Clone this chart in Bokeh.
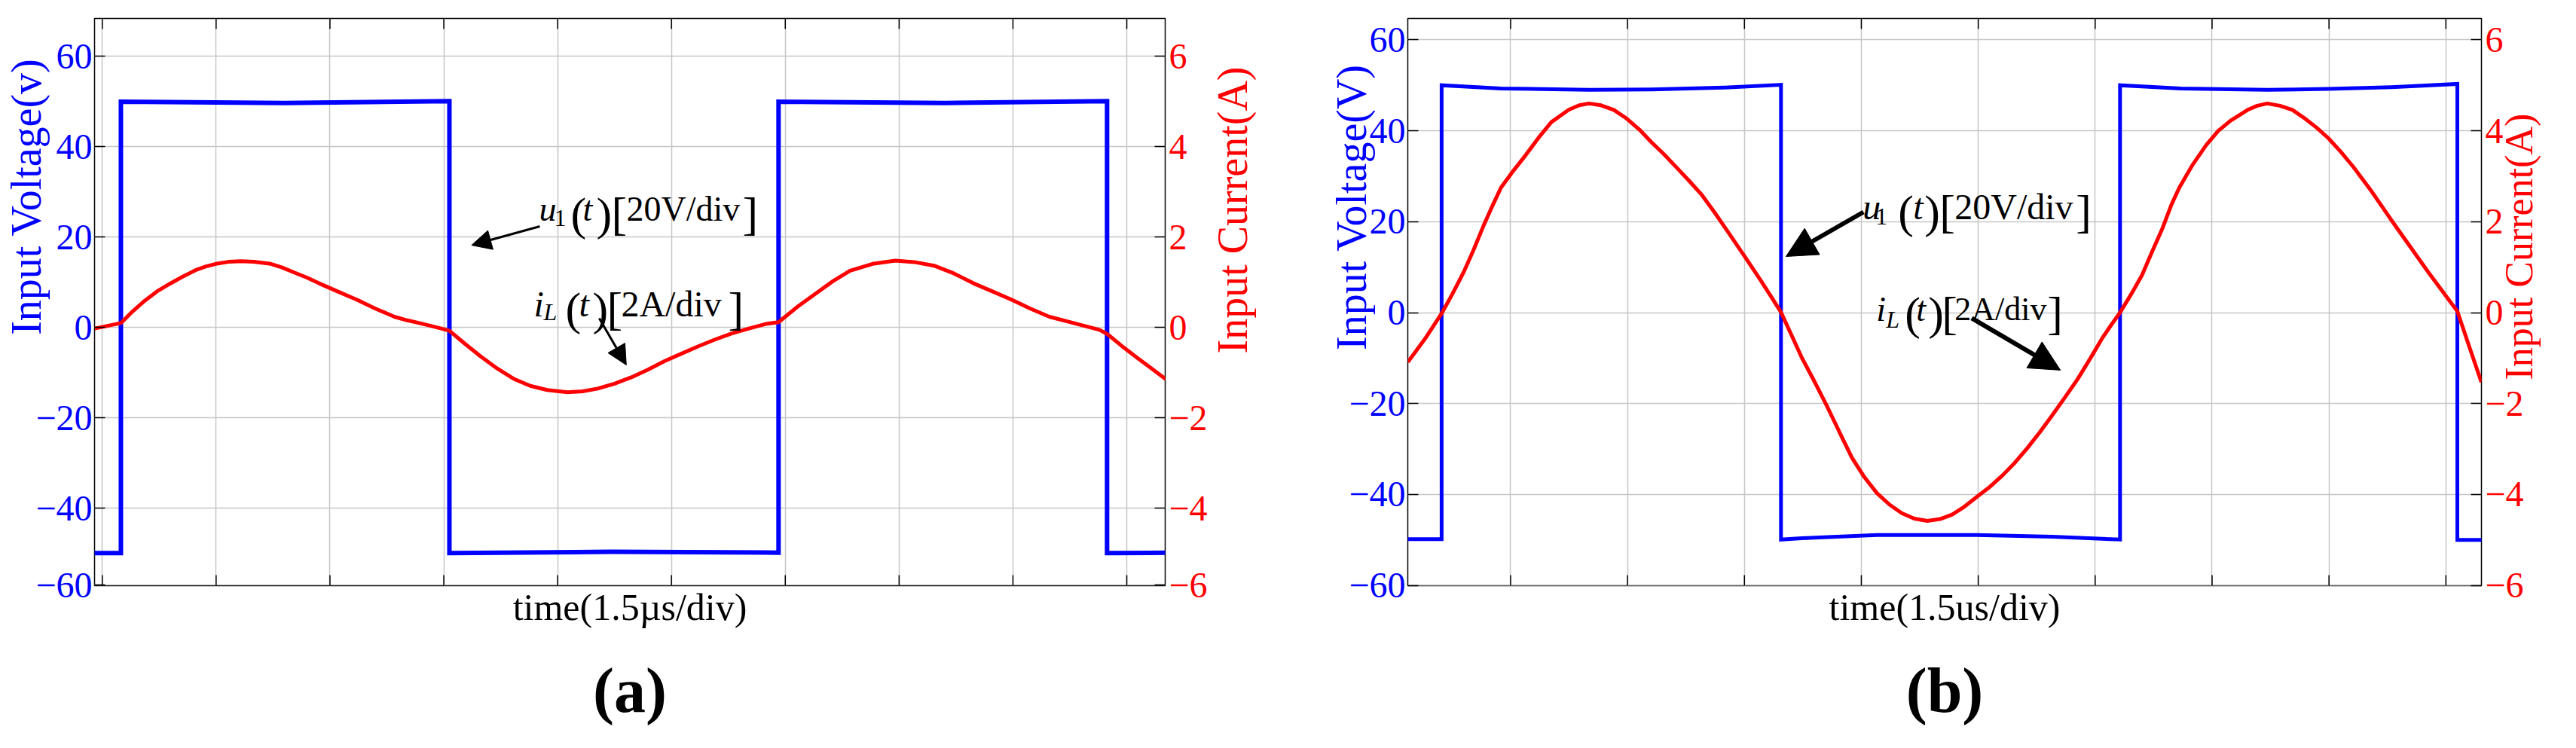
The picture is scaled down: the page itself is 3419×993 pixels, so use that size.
import math
from bokeh.plotting import figure
from bokeh.models import Range1d, LinearAxis, FixedTicker, Label, Arrow, NormalHead
from bokeh.layouts import row
from bokeh.embed import file_html
from bokeh.resources import INLINE

FONT = "Liberation Serif"
BLUE = "#0000ff"
RED = "#ff0000"
GRID = "#c6c6c6"
FRAME_H = 753
NB = "\u00a0"

# ---------------- panel (a) data ----------------
a_time_ticks = [0, 1.5, 3.0, 4.5, 6.0, 7.5, 9.0, 10.5, 12.0, 13.5]
a_volt_ticks = [-57.0, -40, -20, 0, 20, 40, 60]
a_volt_labels = ["\u221260", "\u221240", "\u221220", "0", "20", "40", "60"]
a_curr_ticks = [-5.7, -4, -2, 0, 2, 4, 6]
a_curr_labels = ["\u22126", "\u22124", "\u22122", "0", "2", "4", "6"]

a_volt_t = [-0.13, 0.245, 0.245, 2.4, 4.574, 4.574, 6.7, 8.911, 8.911, 11.1, 13.24, 13.24, 14.05]
a_volt_v = [-49.9, -49.9, 50.0, 49.7, 50.1, -49.9, -49.6, -49.8, 50.0, 49.7, 50.1, -49.9, -49.8]

a_curr_t = [-0.10, 0.245, 0.40, 0.563, 0.72, 0.890, 1.05, 1.228, 1.36, 1.496,
            1.66, 1.824, 2.00, 2.221, 2.37, 2.529, 2.69, 2.856, 3.10, 3.352,
            3.60, 3.849, 4.02, 4.177, 4.35, 4.514, 4.574, 4.78, 4.981, 5.20,
            5.418, 5.64, 5.863, 6.131, 6.33, 6.528, 6.75, 6.971, 7.19, 7.412,
            7.64, 7.859, 8.08, 8.296, 8.52, 8.742, 8.911, 9.16, 9.407, 9.63,
            9.854, 10.15, 10.45, 10.70, 10.96, 11.22, 11.48, 11.73, 11.98, 12.23,
            12.48, 12.80, 13.14, 13.24, 13.43, 13.63, 13.83, 14.03]
a_curr_i = [-0.02, 0.10, 0.36, 0.60, 0.80, 0.97, 1.12, 1.27, 1.35, 1.41,
            1.455, 1.47, 1.455, 1.41, 1.33, 1.22, 1.11, 0.98, 0.80, 0.62,
            0.42, 0.24, 0.16, 0.10, 0.03, -0.04, -0.07, -0.36, -0.63, -0.90,
            -1.13, -1.29, -1.38, -1.43, -1.41, -1.35, -1.24, -1.10, -0.93, -0.74,
            -0.57, -0.41, -0.26, -0.13, -0.02, 0.08, 0.12, 0.46, 0.76, 1.03,
            1.26, 1.41, 1.48, 1.45, 1.37, 1.20, 0.98, 0.80, 0.62, 0.42,
            0.24, 0.10, -0.05, -0.14, -0.40, -0.66, -0.91, -1.16]

# ---------------- panel (b) data ----------------
b_time_ticks = [0, 1.5, 3.0, 4.5, 6.0, 7.5, 9.0, 10.5, 12.0]
b_volt_ticks = [-60, -40, -20, 0, 20, 40, 60]
b_volt_labels = ["\u221260", "\u221240", "\u221220", "0", "20", "40", "60"]
b_curr_ticks = [-6, -4, -2, 0, 2, 4, 6]
b_curr_labels = ["\u22126", "\u22124", "\u22122", "0", "2", "4", "6"]

b_volt_t = [-1.34, -0.885, -0.885, -0.123, 1.006, 1.807, 2.75, 3.469, 3.469, 3.736, 4.700,
            5.983, 6.948, 7.819, 7.819, 8.6, 9.708, 10.49, 11.3, 12.147, 12.147, 12.48]
b_volt_v = [-49.8, -49.8, 50.0, 49.3, 49.0, 49.1, 49.5, 50.1, -49.9, -49.6, -48.9,
            -48.9, -49.3, -49.9, 50.0, 49.3, 49.0, 49.2, 49.6, 50.3, -50.0, -50.0]

b_curr_t = [-1.319, -1.10, -0.885, -0.75, -0.605, -0.475, -0.345, -0.23, -0.123, 0.04,
            0.196, 0.36, 0.523, 0.745, 0.88, 1.006, 1.16, 1.324, 1.488, 1.65,
            1.807, 1.97, 2.125, 2.29, 2.453, 2.61, 2.771, 2.99, 3.205, 3.34,
            3.469, 3.60, 3.736, 3.90, 4.054, 4.22, 4.382, 4.54, 4.700, 4.86,
            5.019, 5.18, 5.347, 5.51, 5.665, 5.82, 5.983, 6.15, 6.311, 6.47,
            6.630, 6.79, 6.948, 7.11, 7.276, 7.44, 7.595, 7.71, 7.819, 7.96,
            8.10, 8.23, 8.367, 8.48, 8.58, 8.75, 8.926, 9.08, 9.235, 9.457,
            9.58, 9.708, 9.87, 10.03, 10.19, 10.34, 10.49, 10.65, 10.81, 11.05,
            11.29, 11.53, 11.77, 11.96, 12.147, 12.30, 12.456]
b_curr_i = [-1.09, -0.58, -0.02, 0.40, 0.88, 1.38, 1.92, 2.36, 2.75, 3.13,
            3.47, 3.85, 4.19, 4.46, 4.56, 4.60, 4.56, 4.46, 4.27, 4.03,
            3.75, 3.48, 3.20, 2.90, 2.59, 2.22, 1.82, 1.27, 0.72, 0.36,
            0.01, -0.48, -0.99, -1.52, -2.04, -2.63, -3.20, -3.62, -3.97, -4.22,
            -4.41, -4.53, -4.58, -4.54, -4.44, -4.27, -4.05, -3.83, -3.58, -3.30,
            -2.98, -2.63, -2.26, -1.87, -1.46, -1.00, -0.55, -0.26, 0.0, 0.40,
            0.82, 1.34, 1.87, 2.38, 2.75, 3.25, 3.69, 4.00, 4.22, 4.46,
            4.55, 4.60, 4.55, 4.46, 4.27, 4.07, 3.84, 3.54, 3.21, 2.66,
            2.06, 1.48, 0.90, 0.46, 0.03, -0.75, -1.53]

PROPS = LinearAxis.properties()
HAS_ORIENT = "axis_label_orientation" in PROPS
HAS_ALIGN = "axis_label_align" in PROPS


def style_yaxis(ax, ticks, labels, color, standoff, label, pad, label_standoff,
                label_size, right_side):
    ax.ticker = FixedTicker(ticks=ticks)
    ax.major_tick_in = 14
    ax.major_tick_out = 0
    ax.major_tick_line_color = "black"
    ax.major_tick_line_width = 1.5
    ax.minor_tick_line_color = None
    ax.axis_line_color = None
    ax.major_label_overrides = {t: l for t, l in zip(ticks, labels)}
    ax.major_label_text_font = FONT
    ax.major_label_text_font_size = "48px"
    ax.major_label_text_color = color
    ax.major_label_standoff = standoff
    ax.axis_label_text_font = FONT
    ax.axis_label_text_font_size = f"{label_size}px"
    ax.axis_label_text_font_style = "normal"
    ax.axis_label_text_color = color
    ax.axis_label_standoff = label_standoff
    if right_side and HAS_ORIENT:
        # the reference's right-hand title reads upward, like the left one
        ax.axis_label_orientation = math.pi / 2
        if HAS_ALIGN:
            ax.axis_label_align = "start"
        else:
            pad = 0
    # leading no-break spaces move the visible words along the axis
    ax.axis_label = NB * pad + label


def label_only_axis(ax, text, size, style, standoff):
    ax.ticker = FixedTicker(ticks=[])
    ax.major_tick_line_color = None
    ax.minor_tick_line_color = None
    ax.axis_line_color = None
    ax.major_label_standoff = 0
    ax.axis_label = text
    ax.axis_label_text_font = FONT
    ax.axis_label_text_font_size = f"{size}px"
    ax.axis_label_text_font_style = style
    ax.axis_label_text_color = "black"
    ax.axis_label_standoff = standoff


def add_pieces(p, x, y, pieces):
    for txt, dx, dy, style, fs in pieces:
        p.add_layout(Label(x=x, y=y, x_offset=dx, y_offset=dy, text=txt,
                           text_font=FONT, text_font_size=f"{fs}px",
                           text_font_style=style, text_color="black",
                           text_align="left", text_baseline="alphabetic"))


def make_panel(width, bl, br, xr, yr, cr, tt, vt_, vl, ctk, cl, xlabel, vlab, clab,
               vpad, cpad, vstand, cstand, csize, title, vtime, vval, ctime, cval, blue_w):
    p = figure(width=width, height=977, x_range=Range1d(*xr), y_range=Range1d(*yr),
               output_backend="svg", toolbar_location=None,
               min_border_left=bl, min_border_right=br,
               min_border_top=24, min_border_bottom=200)
    p.extra_y_ranges = {"cur": Range1d(*cr)}
    p.outline_line_color = "black"
    p.outline_line_width = 1.5
    p.outline_line_alpha = 1.0
    p.background_fill_color = "white"
    p.border_fill_color = "white"

    label_only_axis(p.xaxis[0], xlabel, 50, "normal", 0)
    cap = LinearAxis()
    label_only_axis(cap, title, 84, "bold", 33)
    p.add_layout(cap, "below")

    style_yaxis(p.yaxis[0], vt_, vl, BLUE, 3, vlab, vpad, vstand, 56, False)
    yr_ax = LinearAxis(y_range_name="cur")
    style_yaxis(yr_ax, ctk, cl, RED, 5, clab, cpad, cstand, csize, True)
    p.add_layout(yr_ax, "right")

    p.xgrid.ticker = FixedTicker(ticks=tt)
    p.ygrid.ticker = FixedTicker(ticks=vt_)
    for g in (p.xgrid, p.ygrid):
        g.grid_line_color = GRID
        g.grid_line_width = 1.5

    tl = 14 * (yr[1] - yr[0]) / FRAME_H
    n = len(tt)
    p.segment(x0=tt, y0=[yr[0]] * n, x1=tt, y1=[yr[0] + tl] * n,
              line_color="black", line_width=1.5)
    p.segment(x0=tt, y0=[yr[1]] * n, x1=tt, y1=[yr[1] - tl] * n,
              line_color="black", line_width=1.5)

    p.line(vtime, vval, line_color=BLUE, line_width=blue_w, line_join="miter")
    p.line(ctime, cval, line_color=RED, line_width=5, y_range_name="cur")
    return p


# ---------------- panel (a) ----------------
pa = make_panel(1700, 125, 154, (-0.102, 14.006), (-57.1, 68.4), (-5.71, 6.84),
                a_time_ticks, a_volt_ticks, a_volt_labels, a_curr_ticks, a_curr_labels,
                "time(1.5\u00b5s/div)", "Input Voltage(v)", "Input Current(A)",
                20, 22, -22, 30, 56, "(a)",
                a_volt_t, a_volt_v, a_curr_t, a_curr_i, 6)

add_pieces(pa, 5.755, 26.23, [
    ("u", 0, 0, "italic", 46), ("1", 20, -12, "normal", 32),
    ("(", 42, -6, "normal", 62), ("t", 58, 0, "italic", 46),
    (")", 76, -6, "normal", 62), ("[", 96, -6, "normal", 62),
    ("20V/div", 116, 0, "normal", 46), ("]", 270, -6, "normal", 62)])
add_pieces(pa, 5.685, 5.23, [
    ("i", 0, 0, "italic", 48), ("L", 13, -10, "italic", 32),
    ("(", 42, -6, "normal", 62), ("t", 60, 0, "italic", 48),
    (")", 78, -6, "normal", 62), ("[", 97, -6, "normal", 62),
    ("2A/div", 116, 0, "normal", 48), ("]", 258, -6, "normal", 62)])
pa.add_layout(Arrow(x_start=5.765, y_start=22.4, x_end=4.866, y_end=18.23,
                    line_width=3, line_color="black",
                    end=NormalHead(size=26, fill_color="black", line_color="black")))
pa.add_layout(Arrow(x_start=6.548, y_start=2.07, x_end=6.905, y_end=-8.27,
                    line_width=3, line_color="black",
                    end=NormalHead(size=26, fill_color="black", line_color="black")))

# ---------------- panel (b) ----------------
pb = make_panel(1703, 168, 107, (-1.319, 12.456), (-60.05, 64.7), (-6.005, 6.47),
                b_time_ticks, b_volt_ticks, b_volt_labels, b_curr_ticks, b_curr_labels,
                "time(1.5us/div)", "Input Voltage(V)", "Input Current(A)",
                18, 21, -38, -9, 52, "(b)",
                b_volt_t, b_volt_v, b_curr_t, b_curr_i, 5)

add_pieces(pb, 4.517, 23.28, [
    ("u", 0, 0, "italic", 48), ("1", 17, -13, "normal", 32),
    ("(", 47, -6, "normal", 62), ("t", 67, 0, "italic", 48),
    (")", 82, -6, "normal", 62), ("[", 102, -6, "normal", 62),
    ("20V/div", 122, 0, "normal", 48), ("]", 283, -6, "normal", 62)])
add_pieces(pb, 4.691, 0.76, [
    ("i", 0, 0, "italic", 46), ("L", 13, -14, "italic", 32),
    ("(", 38, -6, "normal", 62), ("t", 53, 0, "italic", 46),
    (")", 69, -6, "normal", 62), ("[", 87, -6, "normal", 62),
    ("2A/div", 104, 0, "normal", 44), ("]", 227, -6, "normal", 62)])
pb.add_layout(Arrow(x_start=4.527, y_start=22.12, x_end=3.533, y_end=12.35,
                    line_width=6, line_color="black",
                    end=NormalHead(size=40, fill_color="black", line_color="black")))
pb.add_layout(Arrow(x_start=5.916, y_start=-1.23, x_end=7.054, y_end=-12.65,
                    line_width=6, line_color="black",
                    end=NormalHead(size=40, fill_color="black", line_color="black")))

layout = row(pa, pb, spacing=0)
open("out.html", "w").write(file_html(layout, INLINE))
